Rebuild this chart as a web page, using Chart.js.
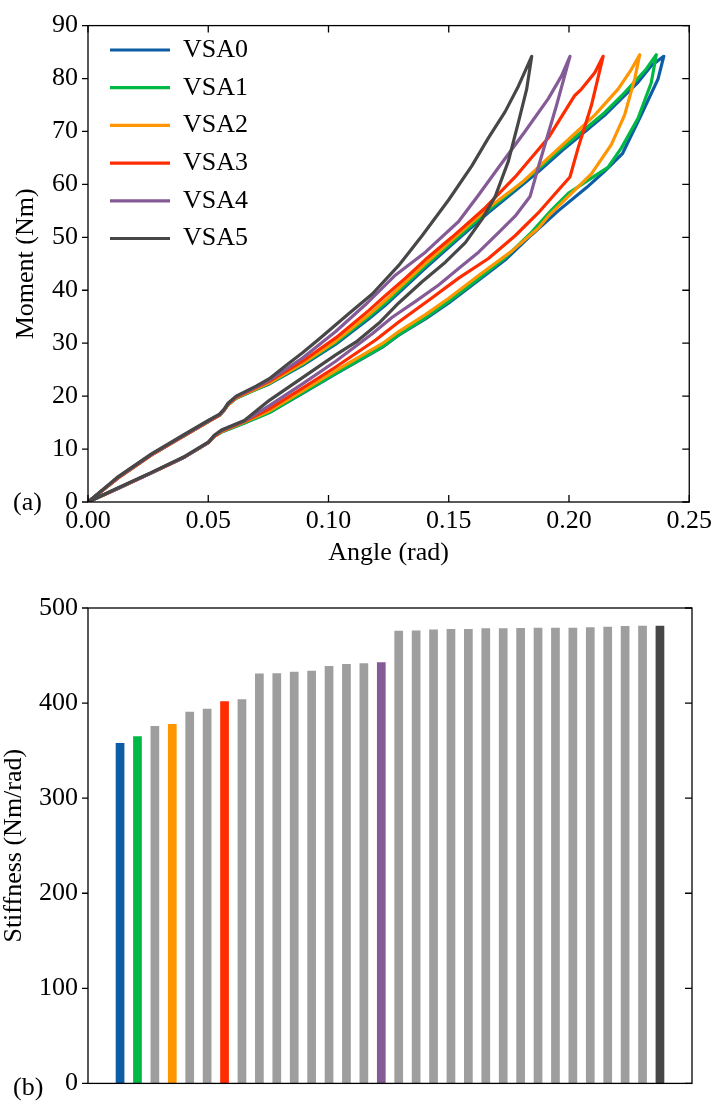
<!DOCTYPE html>
<html>
<head>
<meta charset="utf-8">
<script src="https://cdn.jsdelivr.net/npm/chart.js@4.4.0/dist/chart.umd.min.js"></script>
<style>
  body { margin: 0; background: #fff; }
  #wrap { position: relative; width: 716px; height: 1109px; }
  canvas { position: absolute; left: 0; }
  .tag { position: absolute; left: 13px; font: 26px/26px "Liberation Serif", serif; color: #000; }
</style>
</head>
<body>
<div id="wrap">
  <canvas id="loops" width="716" height="580" style="top:0"></canvas>
  <canvas id="bars" width="716" height="529" style="top:580px"></canvas>
  <div class="tag" style="top:489px">(a)</div>
  <div class="tag" style="top:1074px">(b)</div>
</div>
<script>
// ---- (a) moment vs angle loops: lower branch up to the peak, then upper branch back ----
var vsa0Angle  = [0, 0.0126, 0.0264, 0.0402, 0.05, 0.0525, 0.0555, 0.065, 0.0754, 0.0892, 0.103, 0.1223, 0.1292, 0.1403, 0.15, 0.1624, 0.1734, 0.1845, 0.1955, 0.2073, 0.2149, 0.2222, 0.230, 0.237, 0.2394,
                  0.2342, 0.2287, 0.2218, 0.2149, 0.2052, 0.1969, 0.1872, 0.1762, 0.1665, 0.1527, 0.1403, 0.1237, 0.1168, 0.103, 0.0892, 0.0754, 0.0685, 0.0616, 0.0581, 0.0567, 0.0547, 0.05, 0.0402, 0.0264, 0.0126, 0];
var vsa0Moment = [0, 2.6, 5.5, 8.5, 11.2, 12.4, 13.2, 14.9, 16.9, 20.5, 24.2, 29.2, 31.5, 34.6, 37.6, 41.9, 45.7, 50.5, 55.0, 59.4, 62.5, 65.8, 73.1, 79.9, 84.2,
                  82.4, 79.3, 76.2, 73.1, 69.4, 66.3, 62.4, 58.3, 54.7, 49.2, 44.2, 37.2, 34.6, 29.8, 25.8, 22.3, 21.0, 19.6, 18.3, 17.4, 16.4, 15.2, 12.6, 8.9, 4.6, 0];

var vsa1Angle  = [0, 0.0126, 0.0264, 0.0402, 0.05, 0.0525, 0.0555, 0.065, 0.0754, 0.0892, 0.103, 0.1223, 0.1292, 0.1403, 0.15, 0.1624, 0.1734, 0.1845, 0.1928, 0.1997, 0.208, 0.2162, 0.2218, 0.2287, 0.2342, 0.2363,
                  0.2318, 0.2218, 0.2149, 0.2052, 0.1969, 0.1872, 0.1762, 0.1665, 0.1527, 0.1403, 0.1237, 0.1168, 0.103, 0.0892, 0.0754, 0.0685, 0.0616, 0.0581, 0.0567, 0.0547, 0.05, 0.0402, 0.0264, 0.0126, 0];
var vsa1Moment = [0, 2.6, 5.5, 8.5, 11.2, 12.4, 13.2, 14.9, 16.9, 20.6, 24.3, 29.3, 31.6, 34.8, 37.9, 42.2, 46.1, 51.0, 55.2, 58.3, 60.8, 63.2, 66.9, 72.5, 79.2, 84.5,
                  81.6, 76.7, 73.6, 69.9, 66.8, 62.9, 58.7, 55.1, 49.6, 44.6, 37.6, 35.0, 30.1, 26.0, 22.4, 21.0, 19.6, 18.3, 17.4, 16.4, 15.2, 12.6, 8.9, 4.6, 0];

var vsa2Angle  = [0, 0.0126, 0.0264, 0.0402, 0.05, 0.0525, 0.0555, 0.065, 0.0754, 0.0892, 0.103, 0.1223, 0.1292, 0.1403, 0.15, 0.1624, 0.1762, 0.1872, 0.1914, 0.201, 0.2093, 0.2176, 0.2231, 0.2273, 0.2294,
                  0.2259, 0.2204, 0.2107, 0.201, 0.1914, 0.1803, 0.1665, 0.1527, 0.1403, 0.1237, 0.1168, 0.103, 0.0892, 0.0754, 0.0685, 0.0616, 0.0581, 0.0567, 0.0547, 0.05, 0.0402, 0.0264, 0.0126, 0];
var vsa2Moment = [0, 2.6, 5.5, 8.5, 11.2, 12.4, 13.3, 15.1, 17.2, 21.0, 24.8, 29.9, 32.2, 35.4, 38.5, 42.8, 47.4, 51.7, 54.0, 58.3, 62.0, 67.5, 73.1, 79.9, 84.5,
                  81.7, 78.0, 73.1, 69.0, 65.0, 60.3, 55.6, 50.1, 45.1, 38.1, 35.4, 30.4, 26.2, 22.5, 21.1, 19.7, 18.3, 17.4, 16.4, 15.2, 12.6, 8.9, 4.6, 0];

var vsa3Angle  = [0, 0.0126, 0.0264, 0.0402, 0.05, 0.0525, 0.0555, 0.065, 0.0754, 0.0892, 0.103, 0.1196, 0.1292, 0.1431, 0.1541, 0.1665, 0.1776, 0.1872, 0.1955, 0.2004, 0.2038, 0.2093, 0.2142,
                  0.2107, 0.2052, 0.2024, 0.1914, 0.1776, 0.1652, 0.1513, 0.1403, 0.132, 0.1237, 0.1168, 0.103, 0.0892, 0.0754, 0.0685, 0.0616, 0.0581, 0.0567, 0.0547, 0.05, 0.0402, 0.0264, 0.0126, 0];
var vsa3Moment = [0, 2.6, 5.5, 8.5, 11.2, 12.4, 13.4, 15.2, 17.6, 21.5, 25.5, 30.6, 34.0, 38.6, 42.3, 46.0, 50.3, 54.6, 58.9, 61.4, 66.9, 74.9, 84.2,
                  81.1, 78.0, 76.8, 68.8, 61.4, 55.6, 50.0, 45.8, 42.3, 39.0, 36.2, 31.0, 26.6, 22.8, 21.3, 19.8, 18.4, 17.4, 16.4, 15.2, 12.6, 8.9, 4.6, 0];

var vsa4Angle  = [0, 0.0126, 0.0264, 0.0402, 0.05, 0.0525, 0.0555, 0.065, 0.0754, 0.0892, 0.103, 0.1182, 0.1265, 0.1362, 0.1458, 0.1541, 0.1624, 0.1707, 0.1776, 0.1838, 0.1872, 0.1948, 0.2004,
                  0.1969, 0.1914, 0.1817, 0.1707, 0.1624, 0.1541, 0.1403, 0.1279, 0.1154, 0.103, 0.0892, 0.0754, 0.0685, 0.0616, 0.0581, 0.0567, 0.0547, 0.05, 0.0402, 0.0264, 0.0126, 0];
var vsa4Moment = [0, 2.6, 5.5, 8.5, 11.2, 12.5, 13.5, 15.3, 18.2, 22.3, 26.6, 31.8, 34.9, 37.9, 41.0, 44.1, 47.2, 50.9, 54.0, 57.7, 63.2, 74.9, 84.2,
                  80.5, 76.2, 70.0, 63.2, 58.0, 53.0, 47.2, 42.9, 37.3, 32.2, 27.2, 23.0, 21.4, 19.9, 18.5, 17.5, 16.5, 15.3, 12.7, 9.0, 4.7, 0];

var vsa5Angle  = [0, 0.0126, 0.0264, 0.0402, 0.05, 0.0525, 0.0555, 0.065, 0.0754, 0.0892, 0.103, 0.112, 0.121, 0.1292, 0.1389, 0.1486, 0.1569, 0.1638, 0.1693, 0.1748, 0.179, 0.1824, 0.1845,
                  0.179, 0.1734, 0.1665, 0.1596, 0.15, 0.1389, 0.1292, 0.1182, 0.1085, 0.0961, 0.0892, 0.0823, 0.0754, 0.0699, 0.0616, 0.0581, 0.0567, 0.0547, 0.05, 0.0402, 0.0264, 0.0126, 0];
var vsa5Moment = [0, 2.7, 5.6, 8.6, 11.3, 12.6, 13.6, 15.4, 19.2, 23.5, 27.8, 30.4, 33.8, 37.6, 41.6, 45.3, 49.0, 53.4, 57.7, 64.4, 71.8, 78.0, 84.2,
                  78.6, 73.7, 68.8, 63.5, 57.1, 50.3, 44.7, 39.3, 35.6, 30.8, 28.2, 25.8, 23.3, 21.9, 20.0, 18.6, 17.6, 16.6, 15.4, 12.8, 9.1, 4.8, 0];

var seriesNames = ['VSA0', 'VSA1', 'VSA2', 'VSA3', 'VSA4', 'VSA5'];

// ---- (b) stiffness of each configuration, sorted ----
var stiffness = [358, 365, 376, 378, 391, 394, 402, 404, 431, 431.5, 433, 434, 439, 441, 442, 443,
                 476, 476.3, 477.3, 478, 478, 478.7, 478.7, 479, 479.3, 479.3, 479.3, 479.7, 480.4, 481, 481.4, 481.4];
var highlight = [0, 1, 3, 6, 15, 31]; // bar index of VSA0..VSA5

var palette = ['#0C5DA5', '#00B945', '#FF9500', '#FF2C00', '#845B97', '#474747'];
var gray = '#9e9e9e';

Chart.defaults.font.family = '"Liberation Serif", "Times New Roman", serif';
Chart.defaults.font.size = 26;
Chart.defaults.color = '#000';

// box round the plot, ticks pointing in (top/bottom/right) and out (left)
var frame = {
  id: 'frame',
  afterDraw: function(chart, args, opts) {
    var ctx = chart.ctx, a = chart.chartArea;
    var xs = chart.scales.x, ys = chart.scales.y;
    ctx.save();
    ctx.strokeStyle = '#000';
    ctx.lineWidth = 1.3;
    ctx.strokeRect(a.left, a.top, a.right - a.left, a.bottom - a.top);
    ctx.beginPath();
    if (opts.xTicks) {
      xs.ticks.forEach(function(t) {
        var px = xs.getPixelForValue(t.value);
        ctx.moveTo(px, a.bottom); ctx.lineTo(px, a.bottom - 7);
        ctx.moveTo(px, a.top); ctx.lineTo(px, a.top + 7);
      });
    }
    ys.ticks.forEach(function(t) {
      var py = ys.getPixelForValue(t.value);
      ctx.moveTo(a.left - 6, py); ctx.lineTo(a.left, py);
      ctx.moveTo(a.right, py); ctx.lineTo(a.right - 7, py);
    });
    ctx.stroke();
    ctx.restore();
  }
};

// move the in-plot legend a little right and down
var legendNudge = {
  id: 'legendNudge',
  afterLayout: function(chart) {
    chart.legend.left += 10.3;
    chart.legend.top += 25.3;
  }
};

var loopAngles = [vsa0Angle, vsa1Angle, vsa2Angle, vsa3Angle, vsa4Angle, vsa5Angle];
var loopMoments = [vsa0Moment, vsa1Moment, vsa2Moment, vsa3Moment, vsa4Moment, vsa5Moment];

var loopSets = seriesNames.map(function(name, i) {
  return {
    label: name,
    data: loopAngles[i].map(function(a, k) { return { x: a, y: loopMoments[i][k] }; }),
    borderColor: palette[i],
    backgroundColor: palette[i],
    borderWidth: 3.2,
    pointRadius: 0,
    showLine: true,
    tension: 0,
    borderJoinStyle: 'round',
    borderCapStyle: 'round',
    order: seriesNames.length - i
  };
});

new Chart(document.getElementById('loops'), {
  type: 'scatter',
  data: { datasets: loopSets },
  options: {
    responsive: false,
    animation: false,
    layout: { padding: { left: 0, top: 15, right: 24, bottom: 0 } },
    scales: {
      x: {
        type: 'linear', min: 0, max: 0.25,
        grid: { display: false, drawTicks: false },
        border: { display: false },
        ticks: { stepSize: 0.05, padding: 4, maxRotation: 0, callback: function(v) { return v.toFixed(2); } },
        title: { display: true, text: 'Angle (rad)', padding: { top: 0, bottom: 11 } },
        afterFit: function(s) { s.height = 78; }
      },
      y: {
        min: 0, max: 90,
        grid: { display: false, drawTicks: false },
        border: { display: false },
        ticks: { stepSize: 10, padding: 10 },
        title: { display: true, text: 'Moment (Nm)', padding: { top: 11, bottom: 0 } },
        afterFit: function(s) { s.width = 88; }
      }
    },
    plugins: {
      legend: {
        position: 'chartArea',
        align: 'start',
        labels: {
          usePointStyle: true,
          pointStyle: 'line',
          pointStyleWidth: 60,
          padding: 11.7,
          sort: function(a, b) { return a.datasetIndex - b.datasetIndex; }
        }
      },
      tooltip: { enabled: false },
      frame: { xTicks: true }
    }
  },
  plugins: [frame, legendNudge]
});

var barColors = stiffness.map(function(v, i) {
  var k = highlight.indexOf(i);
  return k >= 0 ? palette[k] : gray;
});

new Chart(document.getElementById('bars'), {
  type: 'bar',
  data: {
    datasets: [{
      data: stiffness.map(function(v, i) { return { x: i, y: v }; }),
      backgroundColor: barColors,
      borderWidth: 0,
      barPercentage: 0.5,
      categoryPercentage: 1
    }]
  },
  options: {
    responsive: false,
    animation: false,
    layout: { padding: { left: 0, top: 28, right: 24, bottom: 13 } },
    scales: {
      x: { type: 'linear', display: false, offset: false, min: -1.84, max: 32.84 },
      y: {
        min: 0, max: 500,
        grid: { display: false, drawTicks: false },
        border: { display: false },
        ticks: { stepSize: 100, padding: 10 },
        title: { display: true, text: 'Stiffness (Nm/rad)', font: { lineHeight: 1 }, padding: { top: 1.5, bottom: 0 } },
        afterFit: function(s) { s.width = 88; }
      }
    },
    plugins: {
      legend: { display: false },
      tooltip: { enabled: false },
      frame: { xTicks: false }
    }
  },
  plugins: [frame]
});
</script>
</body>
</html>
